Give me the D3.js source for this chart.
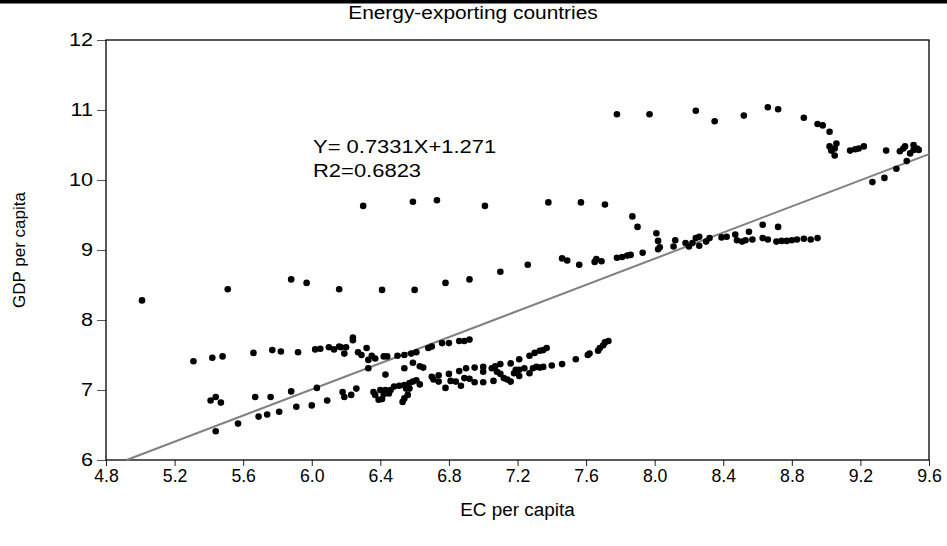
<!DOCTYPE html>
<html>
<head>
<meta charset="utf-8">
<script src="https://cdn.jsdelivr.net/npm/d3@7"></script>
<style>
  html, body { margin: 0; padding: 0; background: #fff; }
  text { font-family: "Liberation Sans", Arial, Helvetica, sans-serif; fill: #000; }
</style>
</head>
<body>
<svg id="chart" width="947" height="546"></svg>
<script>
// ---------------- data ----------------
const titleText = "Energy-exporting countries";
const xLabel = "EC per capita";
const yLabel = "GDP per capita";
const equationLines = ["Y= 0.7331X+1.271", "R2=0.6823"];
const xTicks = [4.8, 5.2, 5.6, 6.0, 6.4, 6.8, 7.2, 7.6, 8.0, 8.4, 8.8, 9.2, 9.6];
const yTicks = [6, 7, 8, 9, 10, 11, 12];

// fitted line end points [EC, GDP]
const fitLine = [[4.92, 6.0], [9.6, 10.37]];

// [EC per capita, GDP per capita]
const arcHigh = [
  [7.78,10.94],[7.97,10.94],[8.24,10.99],[8.35,10.84],[8.52,10.92],[8.66,11.04],[8.72,11.01],
  [8.87,10.89],[8.95,10.80],[8.98,10.78],[9.02,10.69],[9.06,10.52],[9.05,10.45],[9.02,10.48],
  [9.03,10.42],[9.05,10.35],[9.14,10.42],[9.17,10.44],[9.19,10.45],[9.22,10.48],[9.35,10.42],
  [9.43,10.41],[9.45,10.45],[9.46,10.48],[9.49,10.38],[9.51,10.43],[9.51,10.50],[9.53,10.45],
  [9.54,10.43],[9.47,10.27],[9.41,10.16],[9.34,10.03],[9.27,9.97]
];
const arcMid = [
  [6.30,9.63],[6.59,9.69],[6.73,9.71],[7.01,9.63],[7.38,9.68],[7.57,9.68],[7.71,9.65],
  [7.87,9.48],[7.90,9.33],[8.01,9.24],[8.02,9.13],[8.03,9.04],[8.02,9.01]
];
const band85 = [
  [5.01,8.28],[5.51,8.44],[5.88,8.58],[5.97,8.53],[6.16,8.44],[6.41,8.43],[6.60,8.43],
  [6.78,8.53],[6.92,8.58],[7.10,8.69],[7.26,8.79],[7.46,8.88],[7.49,8.85],[7.56,8.79],
  [7.65,8.83],[7.66,8.87],[7.69,8.84],[7.78,8.89],[7.81,8.90],[7.84,8.92],[7.86,8.93],[7.93,8.96]
];
const band91 = [
  [8.12,9.14],[8.11,9.05],[8.18,9.10],[8.20,9.05],[8.22,9.10],[8.24,9.17],[8.26,9.19],
  [8.26,9.06],[8.30,9.12],[8.32,9.17],[8.39,9.18],[8.42,9.19],[8.47,9.22],[8.48,9.14],
  [8.51,9.12],[8.53,9.14],[8.55,9.26],[8.57,9.15],[8.63,9.36],[8.63,9.17],[8.66,9.15],
  [8.72,9.33],[8.71,9.12],[8.74,9.13],[8.77,9.13],[8.80,9.14],[8.83,9.15],[8.87,9.16],
  [8.91,9.15],[8.95,9.17]
];
const band75 = [
  [5.31,7.41],[5.42,7.46],[5.48,7.48],[5.66,7.53],[5.77,7.57],[5.82,7.55],[5.92,7.54],
  [6.02,7.58],[6.05,7.59],[6.10,7.61],[6.13,7.58],[6.16,7.62],[6.17,7.61],[6.20,7.61],
  [6.19,7.52],[6.24,7.71],[6.24,7.75],[6.27,7.54],[6.29,7.50],[6.32,7.60],[6.33,7.43],
  [6.35,7.49],[6.37,7.45],[6.33,7.31],[6.42,7.48],[6.44,7.48],[6.50,7.49],[6.54,7.50],
  [6.58,7.52],[6.61,7.54],[6.68,7.60],[6.70,7.62],[6.76,7.67],[6.80,7.67],[6.86,7.70],
  [6.89,7.70],[6.92,7.72]
];
const lowerBand = [
  [5.41,6.85],[5.44,6.90],[5.47,6.82],[5.44,6.41],[5.57,6.52],[5.67,6.90],[5.69,6.62],
  [5.74,6.65],[5.76,6.90],[5.81,6.69],[5.88,6.98],[5.91,6.76],[6.00,6.78],[6.03,7.03],
  [6.09,6.85],[6.18,6.97],[6.19,6.90],[6.23,6.93],[6.26,7.02],[6.36,6.97],[6.37,6.93],
  [6.39,6.86],[6.41,6.87],[6.40,7.00],[6.43,7.00],[6.44,6.96],[6.43,7.22],[6.54,7.31],
  [6.59,7.39],[6.63,7.34],[6.65,7.32],[6.42,6.94],[6.45,6.95],[6.46,7.00],[6.48,7.05],
  [6.51,7.06],[6.54,7.07],[6.57,7.10],[6.59,7.12],[6.61,7.14],[6.53,6.83],[6.54,6.88],
  [6.56,6.93],[6.55,7.02],[6.57,7.02],[6.63,7.08],[6.70,7.19],[6.71,7.15],[6.74,7.21],
  [6.74,7.12],[6.78,7.03],[6.80,7.23],[6.81,7.13],[6.84,7.12],[6.86,7.27],[6.90,7.31],
  [6.87,7.06],[6.89,7.17],[6.92,7.16],[6.95,7.32],[6.95,7.11],[7.00,7.11],[7.00,7.33],
  [7.00,7.26],[7.05,7.31],[7.07,7.34],[7.06,7.13],[7.08,7.26],[7.10,7.23],[7.10,7.37],
  [7.12,7.17],[7.14,7.15],[7.16,7.12],[7.16,7.38],[7.18,7.24],[7.19,7.29],[7.21,7.29],
  [7.21,7.20],[7.21,7.44],[7.24,7.31],[7.27,7.24],[7.27,7.49],[7.29,7.31],[7.31,7.33],
  [7.33,7.32],[7.35,7.33],[7.30,7.53],[7.33,7.56],[7.35,7.57],[7.37,7.60],[7.40,7.35],
  [7.46,7.37],[7.54,7.44],[7.61,7.50],[7.62,7.52],[7.67,7.56],[7.68,7.60],[7.70,7.64],
  [7.71,7.68],[7.73,7.70]
];

// ---------------- layout ----------------
const W = 947, H = 546;
const plot = { left: 106, right: 929, top: 40, bottom: 460 };

const svg = d3.select("#chart");
const x = d3.scaleLinear().domain([4.8, 9.6]).range([plot.left, plot.right]);
const y = d3.scaleLinear().domain([6, 12]).range([plot.bottom, plot.top]);

// top rule
svg.append("rect").attr("x", 0).attr("y", 0).attr("width", W).attr("height", 3.5).attr("fill", "#000");

// title
svg.append("text").attr("data-stretch", 1.16)
  .attr("x", 473).attr("y", 19)
  .attr("text-anchor", "middle").attr("font-size", 18).text(titleText);

// axes
const xAxis = d3.axisBottom(x).tickValues(xTicks).tickFormat(d3.format(".1f")).tickSize(6).tickPadding(3);
const gx = svg.append("g").attr("transform", `translate(0,${plot.bottom})`).call(xAxis);
gx.select(".domain").remove();
gx.selectAll(".tick line").attr("stroke", "#222");
gx.selectAll(".tick text").attr("font-size", 19).attr("font-family", null).attr("fill", "#000").attr("data-stretch", 0.93);

const yAxis = d3.axisLeft(y).tickValues(yTicks).tickFormat(d3.format("d")).tickSize(9).tickPadding(4);
const gy = svg.append("g").attr("transform", `translate(${plot.left},0)`).call(yAxis);
gy.select(".domain").remove();
gy.selectAll(".tick line").attr("stroke", "#555");
gy.selectAll(".tick text").attr("font-size", 18).attr("font-family", null).attr("fill", "#000").attr("data-stretch", 1.2);

// frame
svg.append("rect")
  .attr("x", plot.left).attr("y", plot.top)
  .attr("width", plot.right - plot.left).attr("height", plot.bottom - plot.top)
  .attr("fill", "none").attr("stroke", "#000").attr("stroke-width", 1.3);

// fitted line
svg.append("line")
  .attr("x1", x(fitLine[0][0])).attr("y1", y(fitLine[0][1]))
  .attr("x2", x(fitLine[1][0])).attr("y2", y(fitLine[1][1]))
  .attr("stroke", "#808080").attr("stroke-width", 2);

// points
const allPoints = [].concat(arcHigh, arcMid, band85, band91, band75, lowerBand);
svg.append("g").selectAll("circle").data(allPoints).join("circle")
  .attr("cx", d => x(d[0])).attr("cy", d => y(d[1])).attr("r", 3.3).attr("fill", "#000");

// equation annotation
const eq = svg.append("g");
equationLines.forEach((t, i) => {
  eq.append("text").attr("data-stretch", 1.22)
    .attr("x", 313).attr("y", 153 + i * 24).attr("font-size", 18).text(t);
});

// axis titles
svg.append("text").attr("data-stretch", 1.05)
  .attr("x", (plot.left + plot.right) / 2).attr("y", 516)
  .attr("text-anchor", "middle").attr("font-size", 18).text(xLabel);
svg.append("text")
  .attr("transform", `translate(25,${(plot.top + plot.bottom) / 2}) rotate(-90)`)
  .attr("text-anchor", "middle").attr("font-size", 17).text(yLabel);

// adjust glyph widths like the reference
svg.selectAll("text[data-stretch]").each(function () {
  const f = +this.getAttribute("data-stretch");
  if (f === 1) return;
  const len = this.getComputedTextLength();
  d3.select(this).attr("textLength", len * f).attr("lengthAdjust", "spacingAndGlyphs");
});
</script>
</body>
</html>
